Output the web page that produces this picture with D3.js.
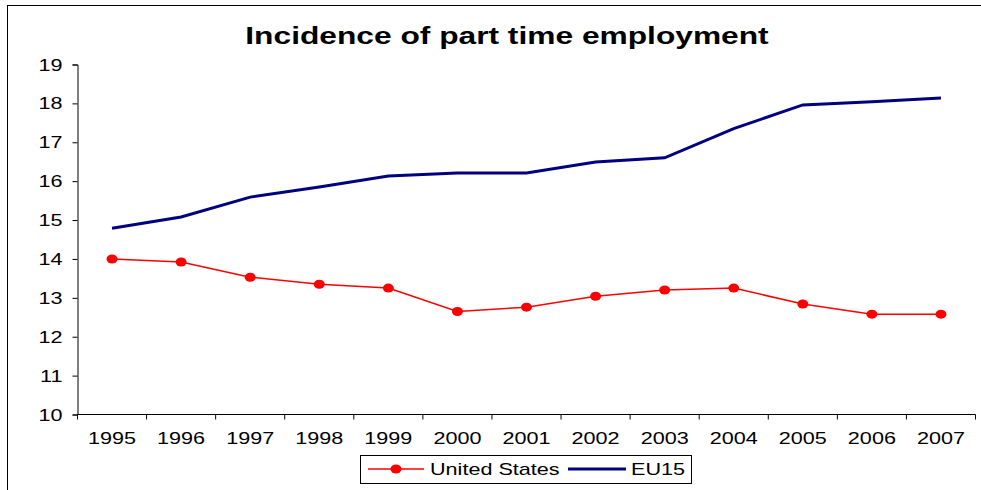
<!DOCTYPE html>
<html>
<head>
<meta charset="utf-8">
<script src="https://cdn.jsdelivr.net/npm/d3@7"></script>
<style>
  body { margin: 0; background: #fff; }
  svg { display: block; font-family: Arial, "Liberation Sans", sans-serif; }
</style>
</head>
<body>
<svg id="chart" width="981" height="490"></svg>
<script>
// Incidence of part time employment, 1995–2007 (% of employment)
const years = ["1995","1996","1997","1998","1999","2000","2001","2002","2003","2004","2005","2006","2007"];
const unitedStates = [14.0, 13.92, 13.53, 13.35, 13.25, 12.65, 12.76, 13.04, 13.2, 13.25, 12.84, 12.58, 12.58];
const eu15 = [14.79, 15.08, 15.59, 15.85, 16.13, 16.21, 16.21, 16.49, 16.6, 17.35, 17.96, 18.04, 18.14];
const yTicks = [10, 11, 12, 13, 14, 15, 16, 17, 18, 19];

// text in this chart is set in a horizontally widened face
const widen = 1.35;

const svg = d3.select("#chart");

function wideText(parent, x, y, str, size, anchor, weight) {
  return parent.append("text")
    .attr("transform", `translate(${x},${y}) scale(${widen},1)`)
    .attr("text-anchor", anchor || "start")
    .attr("font-size", size)
    .attr("font-weight", weight || "normal")
    .attr("fill", "#000")
    .text(str);
}

// outer chart frame
svg.append("rect")
  .attr("x", 7.5).attr("y", 5.5)
  .attr("width", 990).attr("height", 500)
  .attr("fill", "none").attr("stroke", "#000").attr("stroke-width", 1);

const plotLeft = 77.5, plotRight = 975.5, plotTop = 64.5, plotBottom = 414.5;

const x = d3.scaleBand().domain(years).range([plotLeft, plotRight]);
const y = d3.scaleLinear().domain([10, 19]).range([plotBottom, plotTop]);

wideText(svg, 507, 44, "Incidence of part time employment", 23.5, "middle", "bold");

// y axis
const yAxis = svg.append("g")
  .attr("transform", `translate(${plotLeft},0)`)
  .call(d3.axisLeft(y).tickValues(yTicks).tickSize(5).tickFormat(d3.format("d")));
yAxis.selectAll("path, line").attr("stroke", "#000");
yAxis.selectAll(".tick text")
  .attr("x", null).attr("dy", null)
  .attr("transform", `translate(-15,5.5) scale(${widen},1)`)
  .attr("font-size", 16).attr("fill", "#000")
  .attr("font-family", "Arial, 'Liberation Sans', sans-serif");

// x axis: ticks on category boundaries, labels centered in bands
const xAxis = svg.append("g").attr("transform", `translate(0,${plotBottom})`);
xAxis.append("line")
  .attr("x1", plotLeft).attr("x2", plotRight).attr("y1", 0).attr("y2", 0)
  .attr("stroke", "#000");
const bounds = years.map(d => x(d)).concat([x(years[years.length - 1]) + x.bandwidth()]);
xAxis.selectAll("line.tick").data(bounds).join("line")
  .attr("class", "tick")
  .attr("x1", d => d).attr("x2", d => d)
  .attr("y1", 0).attr("y2", 5)
  .attr("stroke", "#000");
years.forEach(d => wideText(xAxis, x(d) + x.bandwidth() / 2, 29, d, 16, "middle"));

const cx = d => x(d) + x.bandwidth() / 2;

// EU15 line
svg.append("path")
  .datum(eu15)
  .attr("fill", "none")
  .attr("stroke", "#000080")
  .attr("stroke-width", 3)
  .attr("d", d3.line().x((d, i) => cx(years[i])).y(d => y(d)));

// United States line with markers
svg.append("path")
  .datum(unitedStates)
  .attr("fill", "none")
  .attr("stroke", "#ff0000")
  .attr("stroke-width", 1.5)
  .attr("d", d3.line().x((d, i) => cx(years[i])).y(d => y(d)));
svg.selectAll("ellipse.us").data(unitedStates).join("ellipse")
  .attr("class", "us")
  .attr("cx", (d, i) => cx(years[i]))
  .attr("cy", d => y(d))
  .attr("rx", 5.5).attr("ry", 4.5)
  .attr("fill", "#ff0000");

// legend
const lg = svg.append("g");
lg.append("rect")
  .attr("x", 360.5).attr("y", 455.5).attr("width", 331).attr("height", 28)
  .attr("fill", "#fff").attr("stroke", "#000");
lg.append("line")
  .attr("x1", 368).attr("x2", 424).attr("y1", 469).attr("y2", 469)
  .attr("stroke", "#ff0000").attr("stroke-width", 1.5);
lg.append("ellipse")
  .attr("cx", 396).attr("cy", 469).attr("rx", 5.5).attr("ry", 4.5)
  .attr("fill", "#ff0000");
wideText(lg, 430, 475, "United States", 16);
lg.append("line")
  .attr("x1", 568).attr("x2", 626).attr("y1", 469).attr("y2", 469)
  .attr("stroke", "#000080").attr("stroke-width", 3);
wideText(lg, 631, 475, "EU15", 16);
</script>
</body>
</html>
